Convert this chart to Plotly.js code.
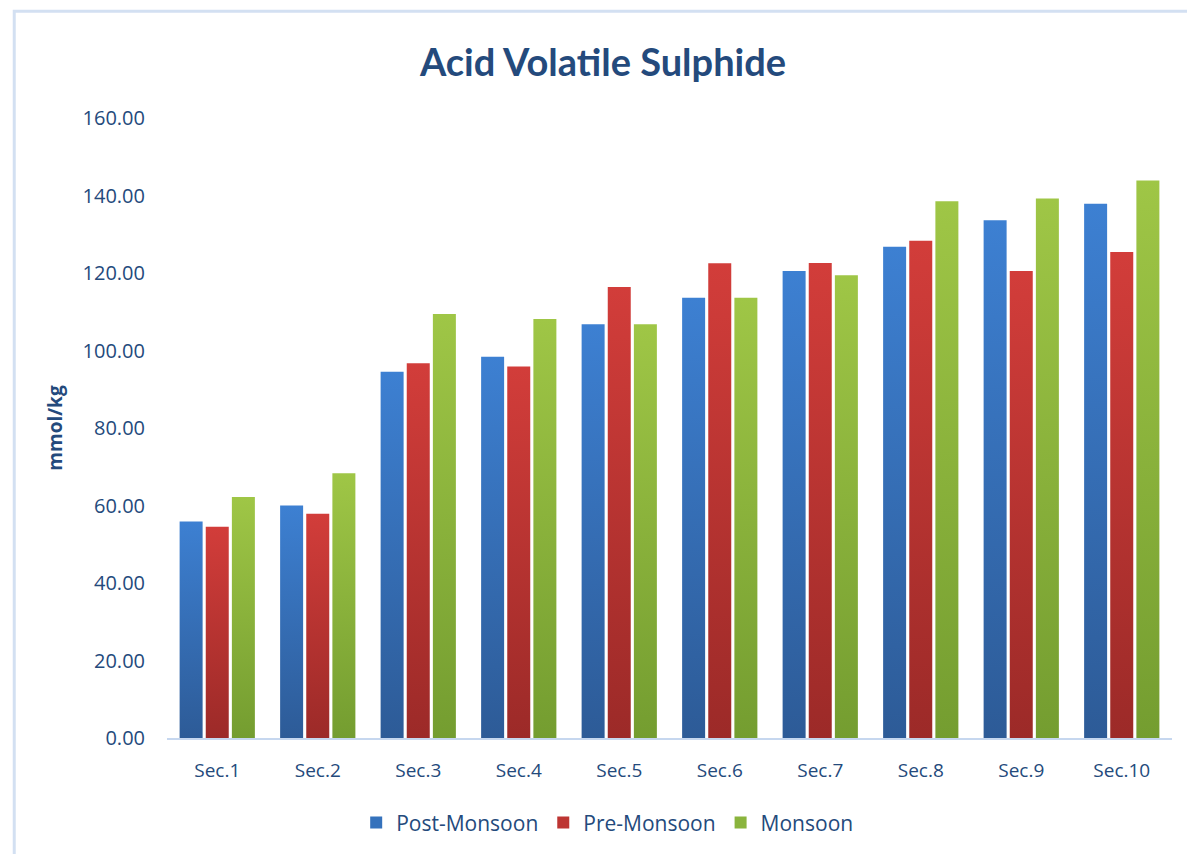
<!DOCTYPE html>
<html>
<head>
<meta charset="utf-8">
<script src="https://cdn.plot.ly/plotly-3.0.1.min.js"></script>
<style>
html,body{margin:0;padding:0;background:#fff;}
#chart{width:1187px;height:854px;}
</style>
</head>
<body>
<div id="chart"></div>
<script>
const categories = ["Sec.1","Sec.2","Sec.3","Sec.4","Sec.5","Sec.6","Sec.7","Sec.8","Sec.9","Sec.10"];
const postMonsoon = [55.9, 60.0, 94.5, 98.4, 106.8, 113.6, 120.5, 126.8, 133.6, 137.9];
const preMonsoon  = [54.5, 57.9, 96.7, 95.9, 116.4, 122.5, 122.6, 128.3, 120.5, 125.4];
const monsoon     = [62.2, 68.3, 109.4, 108.1, 106.8, 113.6, 119.4, 138.5, 139.2, 143.9];
const seriesNames = ["Post-Monsoon","Pre-Monsoon","Monsoon"];
const tickVals = [0,20,40,60,80,100,120,140,160];
const tickText = ["0.00","20.00","40.00","60.00","80.00","100.00","120.00","140.00","160.00"];

const colors = ["#3572bc","#bd3532","#8ab43d"];
const grads = [["#3d80d2","#2d5b97"],["#d23d3a","#9c2a28"],["#9fc646","#749d30"]];
const navy = "#244a7c";

const traces = [postMonsoon, preMonsoon, monsoon].map((vals,i)=>({
  type:"bar", x:categories, y:vals, name:seriesNames[i],
  marker:{color:colors[i], line:{width:0}}
}));

const layout = {
  width:1187, height:854,
  paper_bgcolor:"#ffffff", plot_bgcolor:"#ffffff",
  margin:{l:167,r:15,t:118,b:115},
  title:{text:"<b>Acid Volatile Sulphide</b>", x:0.508, xanchor:"center", y:0.927, yanchor:"middle",
         font:{family:"Lato, 'Open Sans', sans-serif", size:38, color:navy}},
  barmode:"group", bargap:0.22, bargroupgap:0.12,
  xaxis:{showgrid:false, showline:true, linecolor:"#c6d7ef", linewidth:2, ticks:"",
         tickfont:{family:"'Open Sans', sans-serif", size:19, color:navy}, ticklabelstandoff:14},
  yaxis:{range:[0,160], tickvals:tickVals, ticktext:tickText, showgrid:false, zeroline:false, showline:false,
         ticks:"", ticklabelstandoff:21,
         tickfont:{family:"'Open Sans', sans-serif", size:20, color:navy},
         title:{text:"<b>mmol/kg</b>", standoff:14, font:{family:"'Open Sans', sans-serif", size:19, color:navy}}},
  legend:{orientation:"h", x:0.438, xanchor:"center", y:-0.135, yanchor:"middle",
          font:{family:"'Open Sans', sans-serif", size:21, color:navy}, itemwidth:30, traceorder:"normal"},
  shapes:[{type:"rect", xref:"paper", yref:"paper", x0:-0.152, x1:1.02, y0:-0.25, y1:1.172,
           line:{color:"#d3e0f2", width:3}, fillcolor:"rgba(0,0,0,0)", layer:"below"}],
  showlegend:true
};

Plotly.newPlot("chart", traces, layout, {displayModeBar:false, staticPlot:true}).then(gd=>{
  const svg = gd.querySelector("svg.main-svg");
  const ns = "http://www.w3.org/2000/svg";
  let defs = svg.querySelector("defs");
  grads.forEach((g,i)=>{
    const lg = document.createElementNS(ns,"linearGradient");
    lg.setAttribute("id","bg"+i); lg.setAttribute("x1","0"); lg.setAttribute("y1","0");
    lg.setAttribute("x2","0"); lg.setAttribute("y2","1");
    [[0,g[0]],[1,g[1]]].forEach(([o,c])=>{
      const s=document.createElementNS(ns,"stop"); s.setAttribute("offset",o); s.setAttribute("stop-color",c); lg.appendChild(s);
    });
    defs.appendChild(lg);
  });
  gd.querySelectorAll(".barlayer .trace").forEach((t,i)=>{
    t.querySelectorAll("path").forEach(p=>{ p.style.fill = "url(#bg"+i+")"; });
  });
});
</script>
</body>
</html>
